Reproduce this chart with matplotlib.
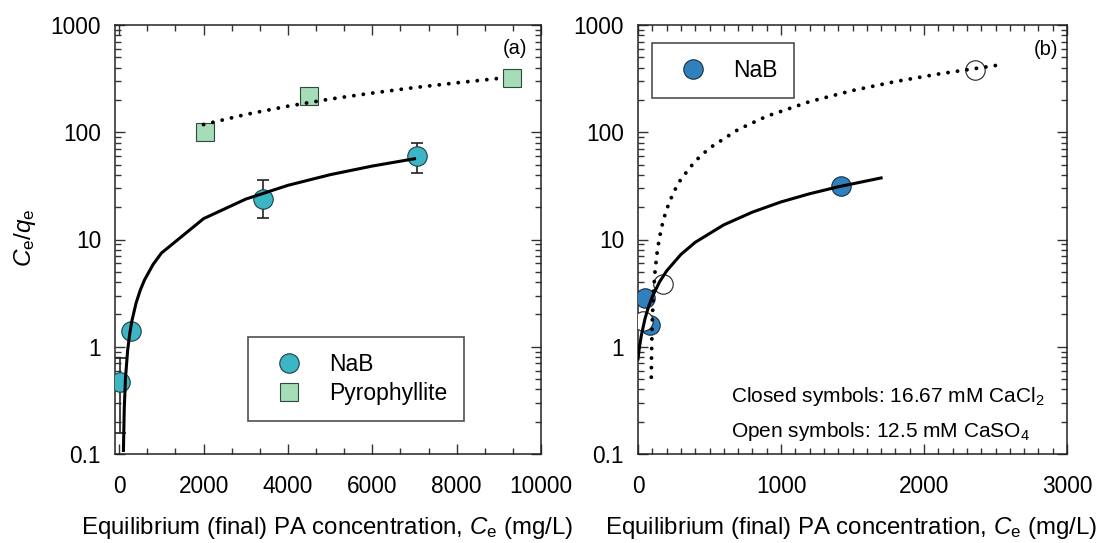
import matplotlib
matplotlib.use("Agg")
import matplotlib.pyplot as plt
from matplotlib.ticker import MultipleLocator, LogLocator, NullFormatter, FixedLocator

plt.rcParams["font.family"] = ["Liberation Sans", "DejaVu Sans"]
plt.rcParams["mathtext.fontset"] = "custom"
plt.rcParams["mathtext.rm"] = "Liberation Sans"
plt.rcParams["mathtext.it"] = "Liberation Sans:italic"

# (a) NaB and pyrophyllite at one salt level
nab_ce = [26, 280, 3400, 7056]
nab_ratio = [0.47, 1.39, 23.9, 60.3]
nab_err_lo = [0.156, 1.39, 15.8, 41.5]
nab_err_hi = [0.79, 1.39, 35.5, 80.0]

pyro_ce = [2036, 4499, 9317]
pyro_ratio = [101.6, 219, 321]

nab_fit_x = [100, 120, 150, 200, 250, 300, 400, 500, 600, 800, 1000,
             2000, 3000, 4000, 5000, 6000, 7000]
nab_fit_y = [0.108, 0.27, 0.52, 0.93, 1.33, 1.74, 2.56, 3.38, 4.2, 5.83, 7.47,
             15.65, 23.8, 32.0, 40.2, 48.4, 56.6]

pyro_fit_x = [2000, 3000, 4000, 5000, 6000, 7000, 8000, 9000]
pyro_fit_y = [118, 146.5, 175, 204, 232, 261, 289, 318]

# (b) NaB in CaCl2 (closed) and CaSO4 (open)
cacl2_ce = [49, 81, 1421]
cacl2_ratio = [2.83, 1.58, 31.7]
caso4_ce = [32, 172, 2356]
caso4_ratio = [1.74, 3.87, 381]

cacl2_fit_x = [0, 10, 25, 50, 75, 100, 150, 200, 300, 400, 600, 800,
               1000, 1200, 1400, 1700]
cacl2_fit_y = [0.77, 0.99, 1.31, 1.85, 2.39, 2.93, 4.01, 5.09, 7.25, 9.41,
               13.7, 18.0, 22.4, 26.7, 31.0, 37.5]

caso4_fit_x = [93, 94, 96, 98, 101, 105, 110, 120, 135, 150, 175, 200, 250,
               300, 400, 500, 700, 900, 1200, 1500, 1800, 2100, 2500]
caso4_fit_y = [0.52, 0.70, 1.05, 1.39, 1.91, 2.61, 3.48, 5.21, 7.82, 10.4,
               14.8, 19.1, 27.8, 36.5, 53.9, 71.2, 106, 141, 193, 245, 297,
               349, 419]

teal = "#3cb5c4"
green = "#a6dcb8"
blue = "#2f80bd"
dotted = (0, (0.01, 2.45))

fig = plt.figure(figsize=(11, 5.43), dpi=100)
ax1 = fig.add_axes([115 / 1100, 89 / 543, 426 / 1100, 429 / 543])
ax2 = fig.add_axes([638 / 1100, 89 / 543, 429 / 1100, 429 / 543])

legend_kw = dict(fontsize=16.5, frameon=True, fancybox=False,
                 edgecolor="#222222", borderpad=0.7, handlelength=2.2,
                 handletextpad=0.65, labelspacing=0.25, borderaxespad=0)


def style_axes(ax):
    ax.set_yscale("log")
    ax.set_ylim(0.1, 1000)
    ax.yaxis.set_major_locator(FixedLocator([0.1, 1, 10, 100, 1000]))
    ax.set_yticklabels(["0.1", "1", "10", "100", "1000"])
    ax.yaxis.set_minor_locator(LogLocator(base=10, subs=range(2, 10), numticks=20))
    ax.yaxis.set_minor_formatter(NullFormatter())
    ax.tick_params(which="both", direction="in", top=True, right=True,
                   labelsize=16.3, color="#333333")
    ax.tick_params(which="major", length=7, width=1.0)
    ax.tick_params(which="minor", length=4, width=1.0)
    ax.tick_params(axis="x", pad=15)
    ax.tick_params(axis="y", pad=10)
    for sp in ax.spines.values():
        sp.set_linewidth(1.1)
        sp.set_color("#222222")


# panel (a)
style_axes(ax1)
ax1.set_xlim(-100, 10000)
ax1.xaxis.set_major_locator(MultipleLocator(2000))
ax1.xaxis.set_minor_locator(MultipleLocator(2000 / 3))

yerr = [[r - lo for r, lo in zip(nab_ratio, nab_err_lo)],
        [hi - r for r, hi in zip(nab_ratio, nab_err_hi)]]
ax1.errorbar(nab_ce, nab_ratio, yerr=yerr, fmt="none", ecolor="#222222",
             elinewidth=1.2, capsize=4, capthick=1.2, zorder=2)
ax1.plot(nab_ce, nab_ratio, "o", ms=14, mfc=teal, mec="#1f3f44", mew=0.8,
         zorder=3, label="NaB")
ax1.plot(pyro_ce, pyro_ratio, "s", ms=12.5, mfc=green, mec="#2f4a38", mew=0.8,
         zorder=3, label="Pyrophyllite")
ax1.plot(nab_fit_x, nab_fit_y, "-", color="black", lw=2.2, zorder=4)
ax1.plot(pyro_fit_x, pyro_fit_y, color="black", lw=2.8, linestyle=dotted,
         dash_capstyle="round", zorder=4)
ax1.text(0.967, 0.946, "(a)", transform=ax1.transAxes, ha="right", va="center",
         fontsize=14.5)
leg1 = ax1.legend(loc="lower left", bbox_to_anchor=(0.312, 0.077), **legend_kw)
leg1.get_frame().set_linewidth(1.2)

# panel (b)
style_axes(ax2)
ax2.set_xlim(0, 3000)
ax2.xaxis.set_major_locator(MultipleLocator(1000))
ax2.xaxis.set_minor_locator(MultipleLocator(100))

ax2.plot(cacl2_ce, cacl2_ratio, "o", ms=14, mfc=blue, mec="#1a2f44", mew=0.8,
         zorder=3, label="NaB")
ax2.plot(caso4_ce, caso4_ratio, "o", ms=14, mfc="white", mec="#222222", mew=0.8,
         zorder=3)
ax2.plot(cacl2_fit_x, cacl2_fit_y, "-", color="black", lw=2.2, zorder=4)
ax2.plot(caso4_fit_x, caso4_fit_y, color="black", lw=2.8, linestyle=dotted,
         dash_capstyle="round", zorder=4)
ax2.text(0.979, 0.944, "(b)", transform=ax2.transAxes, ha="right", va="center",
         fontsize=14.5)
ax2.text(0.217, 0.121, r"Closed symbols: 16.67 mM CaCl$_2$",
         transform=ax2.transAxes, fontsize=15)
ax2.text(0.217, 0.040, r"Open symbols: 12.5 mM CaSO$_4$",
         transform=ax2.transAxes, fontsize=15)
leg2 = ax2.legend(loc="upper left", bbox_to_anchor=(0.033, 0.958), **legend_kw)
leg2.get_frame().set_linewidth(1.2)

# axis titles
fig.text(25 / 1100, 1 - 238 / 543, r"$C_\mathrm{e}/q_\mathrm{e}$", rotation=90,
         ha="center", va="center", fontsize=17.5)
xlab = r"Equilibrium (final) PA concentration, $C_\mathrm{e}$ (mg/L)"
fig.text(327 / 1100, 1 - 528 / 543, xlab, ha="center", va="center", fontsize=17.3)
fig.text(851 / 1100, 1 - 528 / 543, xlab, ha="center", va="center", fontsize=17.3)

fig.savefig("out.png", dpi=100)
